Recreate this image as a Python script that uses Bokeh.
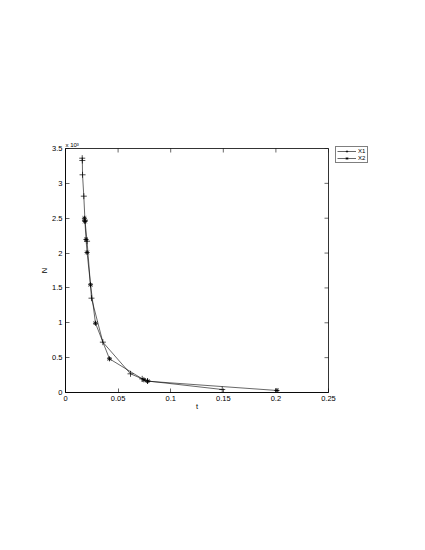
import math
from bokeh.plotting import figure
from bokeh.models import FixedTicker, Legend, LegendItem, Range1d, Title
from bokeh.embed import file_html
from bokeh.resources import INLINE

# data
x1_t = [0.0159, 0.0160, 0.0162, 0.0174, 0.0185, 0.0205, 0.0247, 0.0355, 0.0618, 0.0729, 0.0780, 0.149]
x1_n = [3361, 3328, 3123, 2816, 2470, 2170, 1353, 722, 268, 196, 165, 43]
x2_t = [0.0180, 0.0185, 0.0195, 0.0205, 0.0238, 0.0285, 0.0418, 0.0745, 0.0780, 0.201]
x2_n = [2500, 2453, 2195, 2009, 1545, 994, 483, 182, 162, 29]

x_ticks = [0, 0.05, 0.1, 0.15, 0.2, 0.25]
x_tick_labels = ["0", "0.05", "0.1", "0.15", "0.2", "0.25"]
y_ticks = [0, 500, 1000, 1500, 2000, 2500, 3000, 3500]
y_tick_labels = ["0", "0.5", "1", "1.5", "2", "2.5", "3", "3.5"]

FONT = "Liberation Sans"
FS = "7.5px"
X0, X1 = 0, 0.25
Y0, Y1 = 0, 3500

p = figure(frame_width=263, frame_height=244, output_backend="svg", toolbar_location=None,
           x_range=Range1d(X0, X1), y_range=Range1d(Y0, Y1),
           min_border_left=65, min_border_right=89, min_border_top=148, min_border_bottom=150)
p.grid.visible = False
p.outline_line_color = "black"
p.outline_line_width = 0.8
p.background_fill_color = "white"

def style(ax):
    ax.major_tick_in = 4
    ax.major_tick_out = 0
    ax.minor_tick_line_color = None
    ax.axis_line_color = "black"
    ax.axis_line_width = 0.8
    ax.major_tick_line_width = 0.6
    ax.major_label_text_font = FONT
    ax.major_label_text_font_size = FS
    ax.major_label_text_color = "black"
    ax.major_label_standoff = 3
    ax.axis_label_text_font = FONT
    ax.axis_label_text_font_size = FS
    ax.axis_label_text_font_style = "normal"
    ax.axis_label_text_color = "black"

xa = p.xaxis[0]
xa.ticker = FixedTicker(ticks=x_ticks)
xa.major_label_overrides = dict(zip(x_ticks, x_tick_labels))
style(xa)
xa.axis_label = "t"
xa.axis_label_standoff = -2

ya = p.yaxis[0]
ya.ticker = FixedTicker(ticks=y_ticks)
ya.major_label_overrides = dict(zip(y_ticks, y_tick_labels))
style(ya)
ya.axis_label = "N"
ya.axis_label_standoff = 0

# inward ticks on top and right edges of the box
p.scatter(x_ticks, [Y1] * len(x_ticks), marker="dash", angle=math.pi / 2, size=8,
          line_color="black", line_width=0.6)
p.scatter([X1] * len(y_ticks), y_ticks, marker="dash", size=8,
          line_color="black", line_width=0.6)

l1 = p.line(x1_t, x1_n, line_color="black", line_width=0.6)
m1 = p.scatter(x1_t, x1_n, marker="cross", size=6, line_color="black", line_width=0.7)
l2 = p.line(x2_t, x2_n, line_color="black", line_width=0.6)
m2 = p.scatter(x2_t, x2_n, marker="asterisk", size=5, line_color="black", line_width=0.9)

legend = Legend(items=[LegendItem(label="X1", renderers=[l1, m1]),
                       LegendItem(label="X2", renderers=[l2, m2])],
                location=(7, 229), margin=0, padding=1, spacing=1,
                label_text_font=FONT, label_text_font_size="6px", label_text_color="black",
                glyph_width=19, glyph_height=6, label_height=6, label_width=8,
                label_standoff=2,
                border_line_color="black", border_line_width=0.6,
                background_fill_alpha=1.0)
p.add_layout(legend, "right")

p.add_layout(Title(text="x 10³", text_font=FONT, text_font_size="6px",
                   text_font_style="normal", text_color="black", align="left",
                   offset=0, standoff=1), "above")

open("out.html", "w").write(file_html(p, INLINE))
